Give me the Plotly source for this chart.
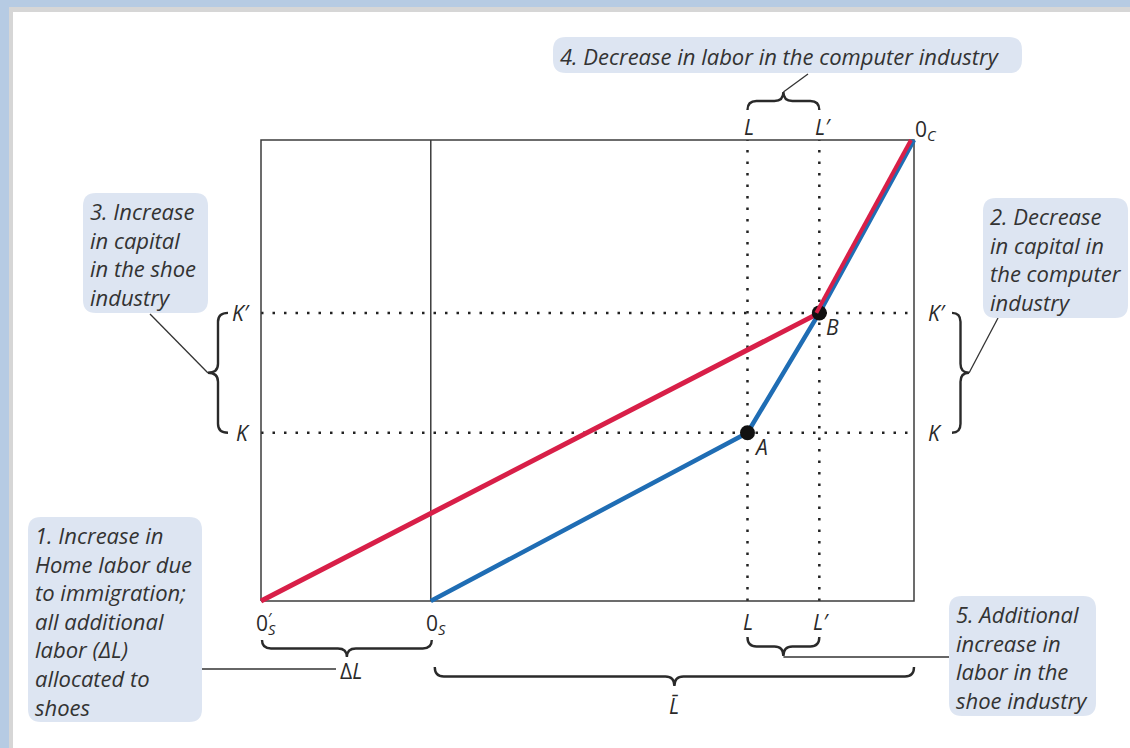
import plotly.graph_objects as go

# ---------------- data (model units) ----------------
O_S_NEW = 0.0      # new origin of shoe industry (0'_S)
O_S = 26.0         # old origin of shoe industry (0_S)
L_OLD = 74.5       # L
L_NEW = 85.5       # L'
L_TOTAL = 100.0    # 0_C
K_OLD = 36.5       # K
K_NEW = 62.5       # K'
K_TOTAL = 100.0

red_x = [O_S_NEW, L_NEW]
red_y = [0.0, K_NEW]
red_top_x = [L_NEW, L_TOTAL]
red_top_y = [K_NEW, K_TOTAL]
blue_x = [O_S, L_OLD, L_NEW, L_TOTAL]
blue_y = [0.0, K_OLD, K_NEW, K_TOTAL]
point_x = [L_OLD, L_NEW]
point_y = [K_OLD, K_NEW]
point_labels = ["A", "B"]

callout_texts = [
    "1. Increase in<br>Home labor due<br>to immigration;<br>all additional<br>labor (ΔL)<br>allocated to<br>shoes",
    "2. Decrease<br>in capital in<br>the computer<br>industry",
    "3. Increase<br>in capital<br>in the shoe<br>industry",
    "4. Decrease in labor in the computer industry",
    "5. Additional<br>increase in<br>labor in the<br>shoe industry",
]

# ---------------- layout geometry (pixels) ----------------
W, H = 1130, 748
OFF = 0
PL, PR, PB, PT = 261, 914, 601, 140
SX = (PR - PL) / (L_TOTAL - O_S_NEW)
SY = (PB - PT) / K_TOTAL
XR = [O_S_NEW + (OFF - PL) / SX, O_S_NEW + (OFF + W - PL) / SX]
YR = [-(OFF + H - PB) / SY, (PB - OFF) / SY]


def px(x):
    return PL + (x - O_S_NEW) * SX


def py(y):
    return PB - y * SY


def fx(p):
    return (p - OFF) / W


def fy(p):
    return 1 - (p - OFF) / H


def pt(x, y):
    return f"{fx(x):.5f},{fy(y):.5f}"


def hbrace(x1, x2, y_end, depth, s):
    yb = y_end + s * depth * 0.5
    yt = y_end + s * depth
    xm = (x1 + x2) / 2
    r = min(9, (x2 - x1) / 4)
    return (f"M{pt(x1, y_end)} Q{pt(x1, yb)} {pt(x1 + r, yb)} L{pt(xm - r, yb)} "
            f"Q{pt(xm, yb)} {pt(xm, yt)} Q{pt(xm, yb)} {pt(xm + r, yb)} "
            f"L{pt(x2 - r, yb)} Q{pt(x2, yb)} {pt(x2, y_end)}")


def vbrace(y1, y2, x_end, depth, s):
    xb = x_end + s * depth * 0.5
    xt = x_end + s * depth
    ym = (y1 + y2) / 2
    r = min(9, (y2 - y1) / 4)
    return (f"M{pt(x_end, y1)} Q{pt(xb, y1)} {pt(xb, y1 + r)} L{pt(xb, ym - r)} "
            f"Q{pt(xb, ym)} {pt(xt, ym)} Q{pt(xb, ym)} {pt(xb, ym + r)} "
            f"L{pt(xb, y2 - r)} Q{pt(xb, y2)} {pt(x_end, y2)}")


def rrect(x0, y0, x1, y1, r=13):
    return (f"M{pt(x0 + r, y0)} L{pt(x1 - r, y0)} Q{pt(x1, y0)} {pt(x1, y0 + r)} "
            f"L{pt(x1, y1 - r)} Q{pt(x1, y1)} {pt(x1 - r, y1)} L{pt(x0 + r, y1)} "
            f"Q{pt(x0, y1)} {pt(x0, y1 - r)} L{pt(x0, y0 + r)} Q{pt(x0, y0)} {pt(x0 + r, y0)} Z")


RED = "#d81f48"
BLUE = "#1f6db4"
INK = "#2a2a2a"
BOX_FILL = "#dde5f2"
FRAME_BLUE = "#b6cbe3"
FONT = "Open Sans"

fig = go.Figure()

common = dict(mode="lines", hoverinfo="skip", showlegend=False, cliponaxis=False)
DOT = "2.5px,9px"

# dotted guide lines
for kv in [K_NEW, K_OLD]:
    fig.add_trace(go.Scatter(x=[O_S_NEW, L_TOTAL], y=[kv, kv],
                             line=dict(color="#222", width=2.5, dash=DOT), **common))
for lv in [L_OLD, L_NEW]:
    fig.add_trace(go.Scatter(x=[lv, lv], y=[0, K_TOTAL],
                             line=dict(color="#222", width=2.5, dash=DOT), **common))

# box and old origin line
fig.add_trace(go.Scatter(x=[O_S_NEW, L_TOTAL, L_TOTAL, O_S_NEW, O_S_NEW],
                         y=[0, 0, K_TOTAL, K_TOTAL, 0],
                         line=dict(color="#3c3c3c", width=1.5), **common))
fig.add_trace(go.Scatter(x=[O_S, O_S], y=[0, K_TOTAL],
                         line=dict(color="#3c3c3c", width=1.5), **common))

# contract lines
fig.add_trace(go.Scatter(x=red_x, y=red_y, line=dict(color=RED, width=5), **common))
fig.add_trace(go.Scatter(x=red_top_x, y=red_top_y, xaxis="x2",
                         line=dict(color=RED, width=4), **common))
fig.add_trace(go.Scatter(x=blue_x, y=blue_y, line=dict(color=BLUE, width=4.5), **common))

# points
fig.add_trace(go.Scatter(x=point_x, y=point_y, mode="markers", hoverinfo="skip",
                         showlegend=False, cliponaxis=False,
                         marker=dict(color="#111", size=15)))

shapes = []
# outer frame
shapes.append(dict(type="rect", xref="paper", yref="paper", x0=0, x1=1, y0=fy(7), y1=1,
                   fillcolor=FRAME_BLUE, line=dict(width=0), layer="above"))
shapes.append(dict(type="rect", xref="paper", yref="paper", x0=0, x1=fx(9), y0=0, y1=1,
                   fillcolor=FRAME_BLUE, line=dict(width=0), layer="above"))
shapes.append(dict(type="rect", xref="paper", yref="paper", x0=fx(9), x1=1, y0=fy(12), y1=fy(7),
                   fillcolor="#d6d6d6", line=dict(width=0), layer="above"))
shapes.append(dict(type="rect", xref="paper", yref="paper", x0=fx(9), x1=fx(13), y0=0, y1=fy(7),
                   fillcolor="#d6d6d6", line=dict(width=0), layer="above"))

brace_line = dict(color=INK, width=2.4)


def add_path(path, line=brace_line, fill=None):
    d = dict(type="path", xref="paper", yref="paper", path=path, line=line, layer="above")
    if fill:
        d["fillcolor"] = fill
    shapes.append(d)


# braces
add_path(hbrace(px(L_OLD), px(L_NEW), 110, -18, 1))
add_path(hbrace(px(L_OLD), px(L_NEW), 637, 19, 1))
add_path(hbrace(px(O_S_NEW) + 1, px(O_S) + 1, 640, 17, 1))
add_path(hbrace(px(O_S) + 4, px(L_TOTAL), 667, 19, 1))
add_path(vbrace(py(K_NEW), py(K_OLD), 228, -20, 1))
add_path(vbrace(py(K_NEW), py(K_OLD), 952, 17, 1))

# leader lines
leader = dict(color="#333", width=1.3)
add_path(f"M{pt((px(L_OLD) + px(L_NEW)) / 2, 92)} L{pt(808, 74)}", leader)
add_path(f"M{pt((px(L_OLD) + px(L_NEW)) / 2, 657)} L{pt(949, 657)}", leader)
add_path(f"M{pt(202, 669)} L{pt(336, 669)}", leader)
add_path(f"M{pt(208, 373)} L{pt(150, 314)}", leader)
add_path(f"M{pt(969, 373)} L{pt(998, 318)}", leader)

# callout boxes
callout_boxes = [(28, 517, 202, 722), (983, 198, 1128, 318), (83, 193, 208, 313),
                 (553, 37, 1022, 73), (949, 596, 1096, 716)]
for (x0, y0, x1, y1) in callout_boxes:
    add_path(rrect(x0, y0, x1, y1), line=dict(width=0), fill=BOX_FILL)

annotations = []
for (x0, y0, x1, y1), t in zip(callout_boxes, callout_texts):
    annotations.append(dict(xref="paper", yref="paper", x=fx(x0 + 5), y=fy((y0 + y1) / 2 + 1),
                            xanchor="left", yanchor="middle", align="left",
                            text=f"<i>{t}</i>", showarrow=False,
                            font=dict(family=FONT, size=22, color="#333")))


def lab(x, y, text, xanchor="center", size=21):
    annotations.append(dict(xref="paper", yref="paper", x=fx(x), y=fy(y), text=text,
                            xanchor=xanchor, yanchor="middle", showarrow=False,
                            font=dict(family=FONT, size=size, color=INK)))


lab(px(L_OLD) + 2, 127, "<i>L</i>")
lab(px(L_NEW) + 4, 127, "<i>L′</i>")
lab(px(L_OLD) + 1, 622, "<i>L</i>")
lab(px(L_NEW) + 2, 622, "<i>L′</i>")
lab(px(L_TOTAL) - 1, 130, "0<sub><i>C</i></sub>", xanchor="left")
lab(px(O_S_NEW) - 7, 624, "0<sub><i>S</i></sub>", xanchor="left")
lab(px(O_S_NEW) + 9, 619, "′", size=16)
lab(px(O_S) - 7, 624, "0<sub><i>S</i></sub>", xanchor="left")
lab(338, 671, "Δ<i>L</i>", xanchor="left")
lab((px(O_S) + px(L_TOTAL)) / 2 + 2, 706, "<i>L\u0304</i>")
lab(252, py(K_NEW), "<i>K′</i>", xanchor="right")
lab(252, py(K_OLD), "<i>K</i>", xanchor="right")
lab(926, py(K_NEW), "<i>K′</i>", xanchor="left")
lab(926, py(K_OLD), "<i>K</i>", xanchor="left")
for xv, yv, t in zip(point_x, point_y, point_labels):
    lab(px(xv) + 5, py(yv) + 14, f"<i>{t}</i>", xanchor="left")

fig.update_layout(
    width=W, height=H,
    margin=dict(l=0, r=0, t=0, b=0),
    paper_bgcolor="white", plot_bgcolor="white",
    xaxis=dict(range=XR, visible=False, fixedrange=True),
    xaxis2=dict(range=[XR[0] + 3 / SX, XR[1] + 3 / SX], overlaying="x", visible=False,
                fixedrange=True),
    yaxis=dict(range=YR, visible=False, fixedrange=True),
    shapes=shapes,
    annotations=annotations,
)

fig.write_html("out.html", config={"displayModeBar": False},
               post_script="document.body.style.margin='0';")
